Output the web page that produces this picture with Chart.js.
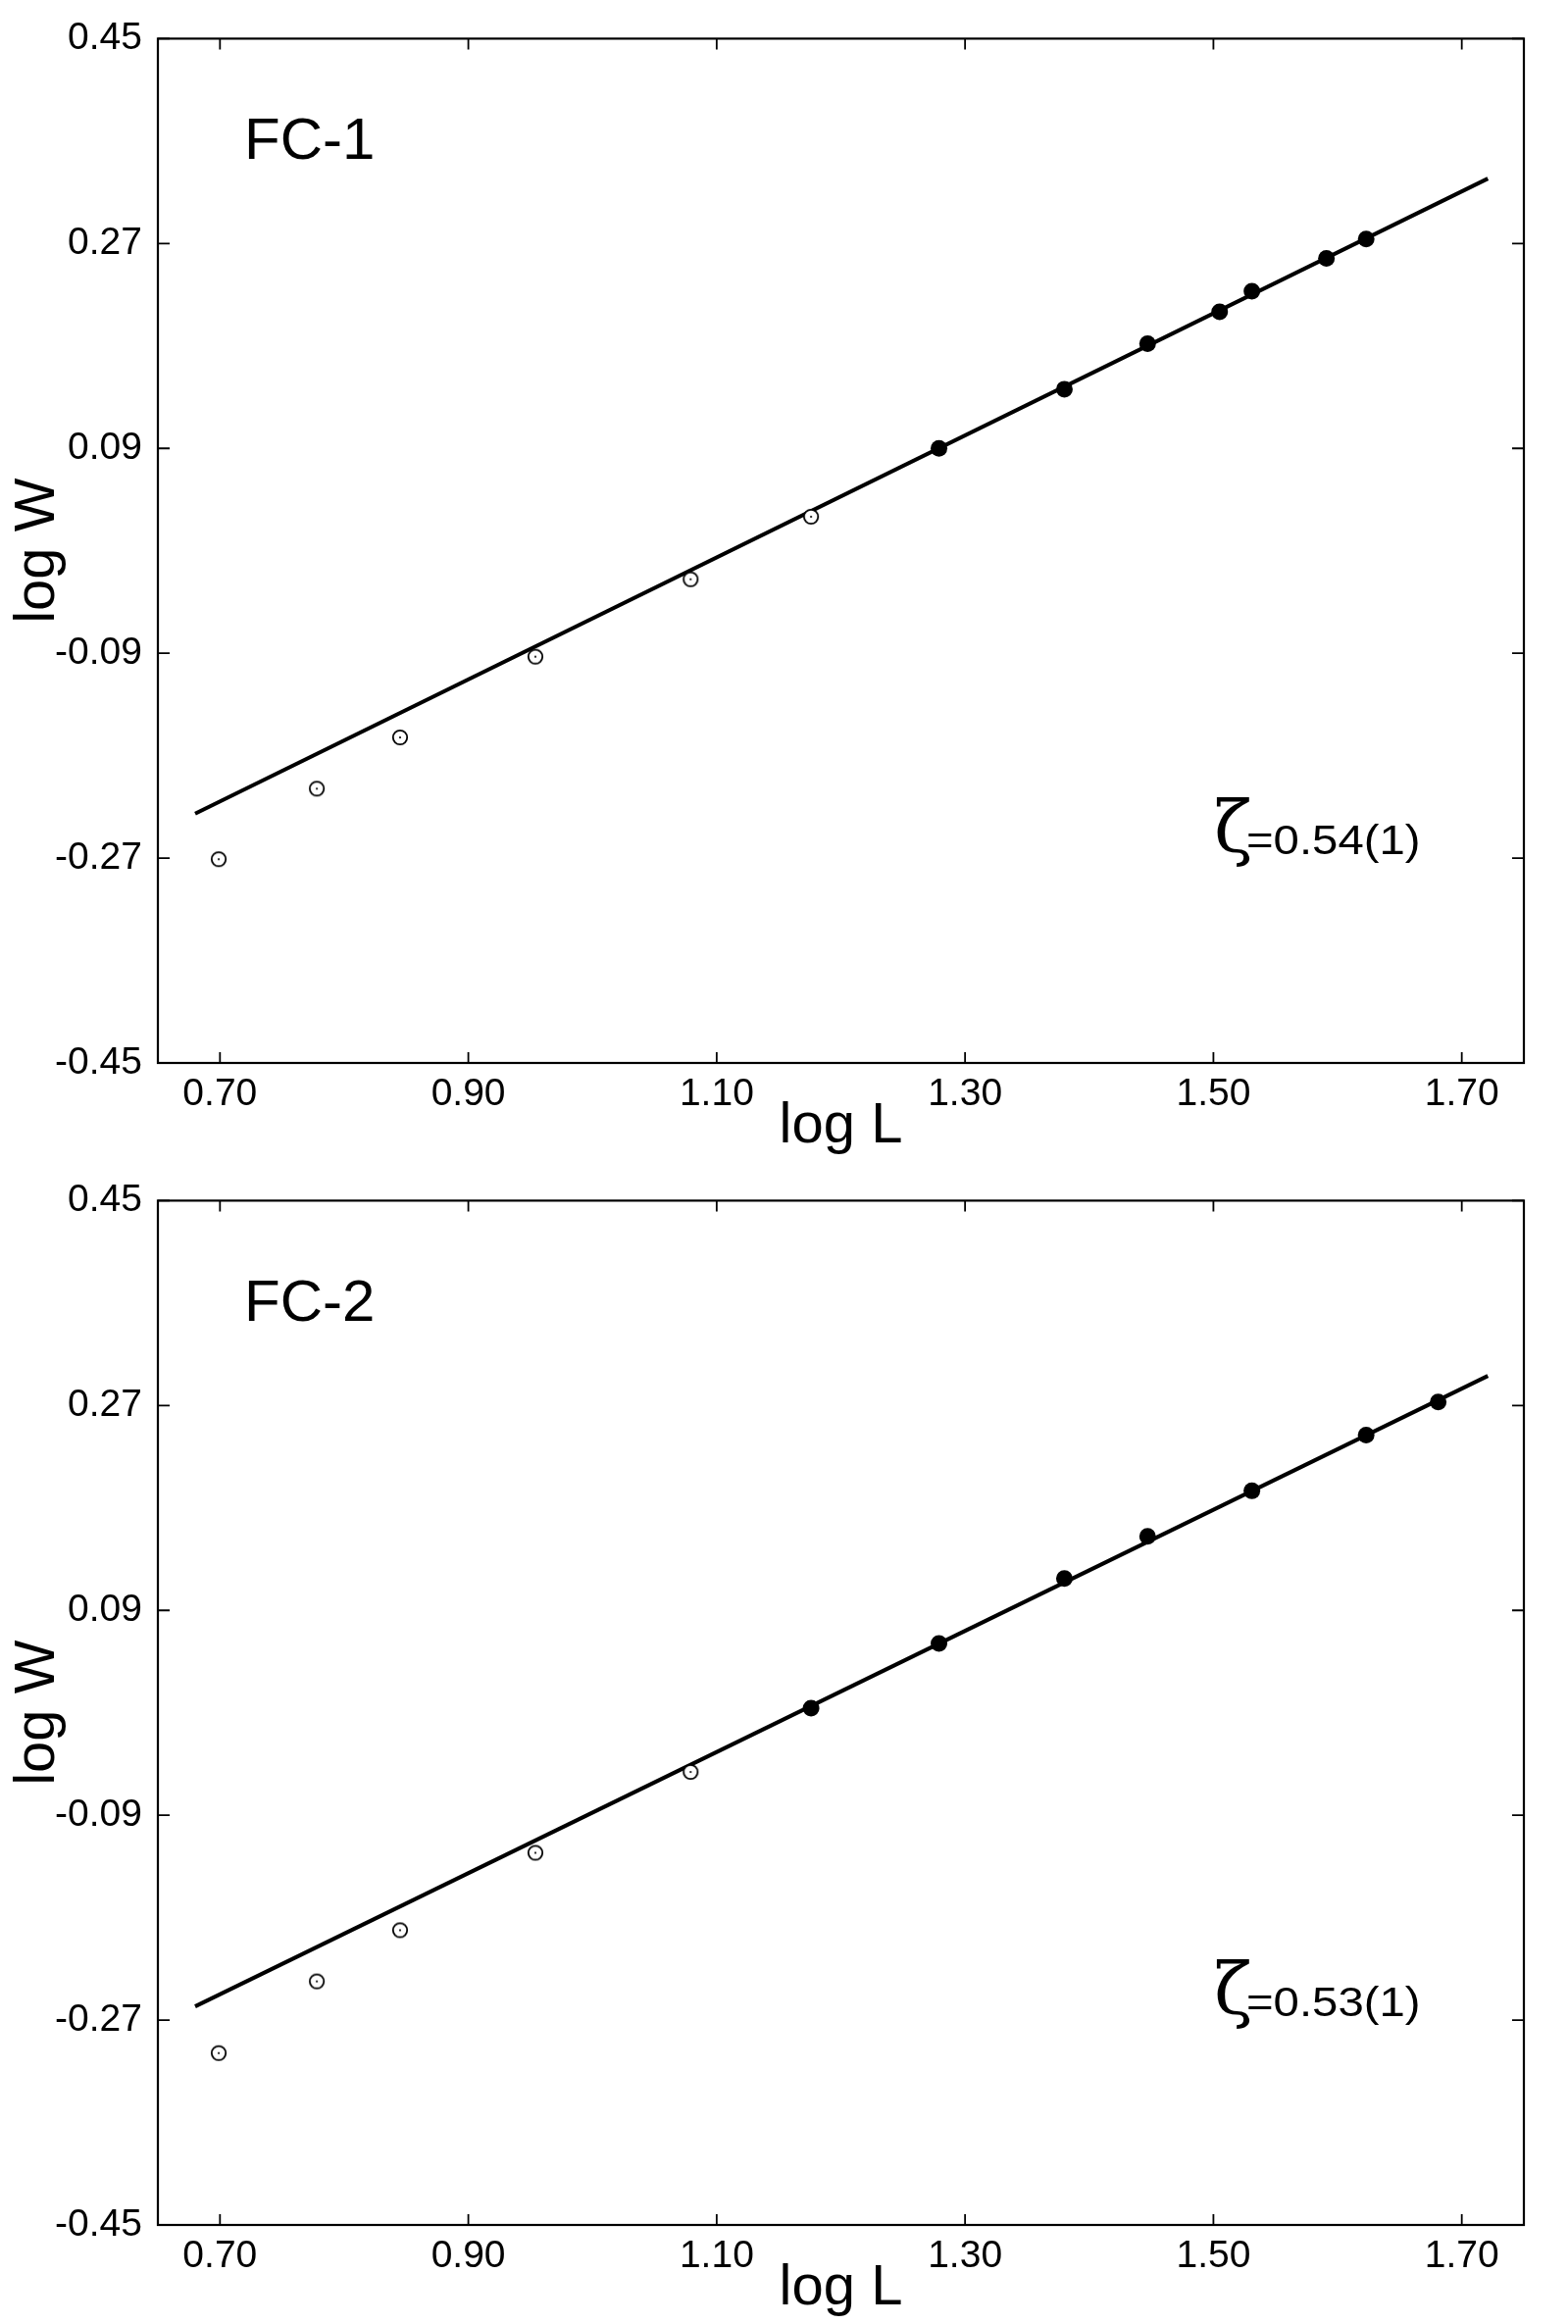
<!DOCTYPE html>
<html><head><meta charset="utf-8">
<script src="https://cdn.jsdelivr.net/npm/chart.js@4.4.1/dist/chart.umd.min.js"></script>
<style>
html,body{margin:0;padding:0;background:#fff;}
.wrap{width:1599px;height:1185px;position:relative;}
canvas{display:block;}
</style></head><body>
<div class="wrap"><canvas id="c1" width="1599" height="1185"></canvas></div>
<div class="wrap"><canvas id="c2" width="1599" height="1185"></canvas></div>
<script>
// ---- tick labels ----
const xTickValues = [0.70, 0.90, 1.10, 1.30, 1.50, 1.70];
const yTickValues = [-0.45, -0.27, -0.09, 0.09, 0.27, 0.45];

// ---- FC-1 data ----
const fc1OpenL   = [0.699, 0.778, 0.845, 0.954, 1.079, 1.176];
const fc1OpenW   = [-0.271, -0.209, -0.164, -0.093, -0.025, 0.030];
const fc1FilledL = [1.279, 1.380, 1.447, 1.505, 1.531, 1.591, 1.623];
const fc1FilledW = [0.090, 0.142, 0.182, 0.210, 0.228, 0.257, 0.274];
const fc1FitL    = [0.680, 1.721];
const fc1FitW    = [-0.231, 0.327];

// ---- FC-2 data ----
const fc2OpenL   = [0.699, 0.778, 0.845, 0.954, 1.079];
const fc2OpenW   = [-0.299, -0.236, -0.191, -0.123, -0.052];
const fc2FilledL = [1.176, 1.279, 1.380, 1.447, 1.531, 1.623, 1.681];
const fc2FilledW = [0.004, 0.061, 0.118, 0.155, 0.195, 0.244, 0.273];
const fc2FitL    = [0.680, 1.721];
const fc2FitW    = [-0.258, 0.296];

const FONT = '"Liberation Sans", Arial, Helvetica, sans-serif';

function pts(xs, ys){ return xs.map((v,i)=>({x:v, y:ys[i]})); }

function openMarker(){
  const c=document.createElement('canvas'); c.width=22; c.height=22;
  const g=c.getContext('2d');
  g.lineWidth=1.8; g.strokeStyle='#000'; g.fillStyle='#fff';
  g.beginPath(); g.arc(11,11,7.2,0,Math.PI*2); g.fill(); g.stroke();
  g.beginPath(); g.arc(11,11,1.1,0,Math.PI*2); g.fillStyle='#000'; g.fill();
  return c;
}

const framePlugin = {
  id:'frame',
  afterDraw(chart, args, opts){
    const {ctx, chartArea:a} = chart;
    const x = chart.scales.x, y = chart.scales.y;
    ctx.save();
    ctx.strokeStyle='#000'; ctx.lineWidth=2.2;
    ctx.strokeRect(a.left, a.top, a.right-a.left, a.bottom-a.top);
    ctx.lineWidth=1.8;
    ctx.beginPath();
    xTickValues.forEach(v=>{
      const px=x.getPixelForValue(v);
      ctx.moveTo(px,a.bottom); ctx.lineTo(px,a.bottom-11);
      ctx.moveTo(px,a.top); ctx.lineTo(px,a.top+11);
    });
    yTickValues.forEach(v=>{
      const py=y.getPixelForValue(v);
      ctx.moveTo(a.left,py); ctx.lineTo(a.left+12,py);
      ctx.moveTo(a.right,py); ctx.lineTo(a.right-12,py);
    });
    ctx.stroke();
    ctx.fillStyle='#000';
    ctx.textBaseline='alphabetic'; ctx.textAlign='left';
    ctx.font='60px '+FONT;
    ctx.fillText(opts.label, a.left+88, a.top+123);
    ctx.font='72px "DejaVu Serif", "Liberation Serif", serif';
    ctx.fillText('\u03B6', a.left+1077, a.top+830);
    ctx.save();
    ctx.translate(a.left+1110, a.top+832); ctx.scale(1.1,1);
    ctx.font='43px '+FONT;
    ctx.fillText(opts.fit,0,0);
    ctx.restore();
    ctx.restore();
  }
};

function makeChart(id, openL, openW, filledL, filledW, fitL, fitW, label, fit){
  const marker = openMarker();
  return new Chart(document.getElementById(id), {
    type:'scatter',
    data:{ datasets:[
      { data: pts(filledL, filledW), pointStyle:'circle', pointRadius:8.5, pointBackgroundColor:'#000', pointBorderColor:'#000', pointBorderWidth:0, order:1 },
      { data: pts(openL, openW), pointStyle: marker, pointRadius:9, order:2 },
      { data: pts(fitL, fitW), showLine:true, borderColor:'#000', borderWidth:4, pointRadius:0, fill:false, order:3 }
    ]},
    options:{
      responsive:false, animation:false, devicePixelRatio:1,
      layout:{ padding:{ top:28, right:45, left:0, bottom:0 } },
      plugins:{ legend:{display:false}, tooltip:{enabled:false}, frame:{label, fit} },
      scales:{
        x:{ type:'linear', min:0.65, max:1.75,
            afterBuildTicks:(s)=>{ s.ticks = xTickValues.map(v=>({value:v})); },
            afterFit:(s)=>{ s.height = 101; },
            grid:{ display:false, drawTicks:false }, border:{ display:false },
            ticks:{ padding:9, color:'#000', font:{ size:39, family:FONT }, callback:(v)=>Number(v).toFixed(2), maxRotation:0, autoSkip:false },
            title:{ display:true, text:'log L', color:'#000', font:{ size:58, family:FONT, lineHeight:1 }, padding:{ top:0, bottom:7 } } },
        y:{ type:'linear', min:-0.45, max:0.45,
            afterBuildTicks:(s)=>{ s.ticks = yTickValues.map(v=>({value:v})); },
            afterFit:(s)=>{ s.width = 161; },
            grid:{ display:false, drawTicks:false }, border:{ display:false },
            ticks:{ padding:16, color:'#000', font:{ size:39, family:FONT }, callback:(v)=>Number(v).toFixed(2), autoSkip:false },
            title:{ display:true, text:'log W', color:'#000', font:{ size:58, family:FONT, lineHeight:1 }, padding:{ top:10, bottom:0 } } }
      }
    },
    plugins:[framePlugin]
  });
}

makeChart('c1', fc1OpenL, fc1OpenW, fc1FilledL, fc1FilledW, fc1FitL, fc1FitW, 'FC-1', '=0.54(1)');
makeChart('c2', fc2OpenL, fc2OpenW, fc2FilledL, fc2FilledW, fc2FitL, fc2FitW, 'FC-2', '=0.53(1)');
</script>
</body></html>
